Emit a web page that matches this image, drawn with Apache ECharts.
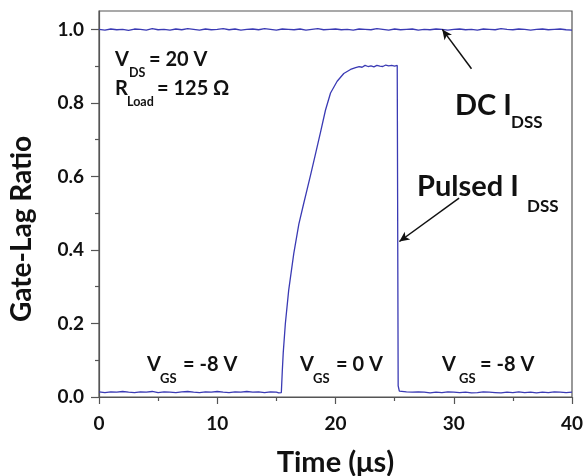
<!DOCTYPE html>
<html>
<head>
<meta charset="utf-8">
<script src="https://cdn.jsdelivr.net/npm/echarts@6/dist/echarts.min.js"></script>
<style>
  html, body { margin: 0; padding: 0; background: #fff; }
  #chart { width: 585px; height: 476px; }
</style>
</head>
<body>
<div id="chart"></div>
<script>
// DC trace: one value every 0.5 us from t = 0
const dcStep = 0.5;
const dcRatio = [
  1.000, 0.998, 1.001, 0.999, 1.000, 0.997, 1.001, 1.000, 0.998, 1.002,
  0.999, 1.000, 0.998, 1.001, 0.999, 1.002, 1.000, 0.998, 1.001, 0.999,
  1.000, 1.002, 0.999, 1.001, 0.998, 1.000, 1.001, 0.999, 1.002, 1.000,
  0.998, 1.001, 1.000, 0.999, 1.001, 0.998, 1.000, 1.002, 0.999, 1.000,
  1.001, 0.999, 1.000, 0.998, 1.001, 1.000, 0.999, 1.002, 1.000, 0.998,
  1.001, 0.999, 1.000, 1.001, 0.998, 1.000, 0.999, 1.001, 1.000, 0.998,
  1.000, 1.001, 0.999, 1.000, 0.998, 1.001, 1.000, 0.999, 1.002, 1.000,
  0.999, 1.001, 1.000, 0.998, 1.000, 1.001, 0.999, 1.000, 1.001, 0.999,
  0.998
];

// pulsed trace, gate off (VGS = -8 V): every 0.5 us from t = 0 to 15
const pulseStep = 0.5;
const pulseOffBefore = [
  0.014, 0.012, 0.014, 0.013, 0.015, 0.013, 0.012, 0.014, 0.013, 0.015,
  0.012, 0.014, 0.013, 0.012, 0.014, 0.015, 0.013, 0.012, 0.014, 0.013,
  0.015, 0.013, 0.012, 0.014, 0.013, 0.015, 0.013, 0.014, 0.012, 0.014,
  0.013
];
// gate on (VGS = 0 V): [t, ratio]
const pulseOn = [
  [15.2, 0.011], [15.42, 0.012], [15.5, 0.07], [15.58, 0.12], [15.76, 0.20],
  [16.04, 0.29], [16.47, 0.39], [16.9, 0.47], [17.3, 0.525], [17.6, 0.565],
  [17.9, 0.605], [18.3, 0.66], [18.73, 0.72], [19.15, 0.78], [19.58, 0.827],
  [20.14, 0.859], [20.7, 0.88], [21.27, 0.891], [21.7, 0.896],
  [22.0, 0.899], [22.25, 0.897], [22.5, 0.902], [22.75, 0.899], [23.0, 0.901],
  [23.25, 0.898], [23.5, 0.902], [23.75, 0.900], [24.0, 0.899], [24.25, 0.903],
  [24.5, 0.901], [24.75, 0.902], [25.0, 0.900], [25.22, 0.902],
  [25.3, 0.03], [25.4, 0.016]
];
// gate off again: every 0.5 us from t = 25.5 to 40
const pulseOffAfterStart = 25.5;
const pulseOffAfter = [
  0.015, 0.014, 0.013, 0.014, 0.013, 0.011, 0.013, 0.012, 0.014, 0.013,
  0.012, 0.013, 0.011, 0.012, 0.014, 0.013, 0.012, 0.011, 0.013, 0.012,
  0.014, 0.012, 0.013, 0.011, 0.013, 0.012, 0.014, 0.013, 0.012, 0.013
];

const xTicks = [0, 10, 20, 30, 40];
const yTicks = [0, 0.2, 0.4, 0.6, 0.8, 1.0];
const yMinorTicks = [0.1, 0.3, 0.5, 0.7, 0.9];

// arrows: [tail, head] in data coords
const dcArrow = [[31.5, 0.893], [29.03, 1.0]];
const pulseArrow = [[30.45, 0.541], [25.4, 0.423]];

(function (w, d) {
  const font = 'Lato, "Open Sans", sans-serif';
  const ink = '#111';
  const axisColor = '#555';
  const traceColor = '#3a3ab4';

  const dcData = dcRatio.map((v, i) => [i * dcStep, v]);
  const pulseData = []
    .concat(pulseOffBefore.map((v, i) => [i * pulseStep, v]))
    .concat(pulseOn)
    .concat(pulseOffAfter.map((v, i) => [pulseOffAfterStart + i * pulseStep, v]));

  /* text pieces: [text, x, y, size] */
  const notes = [
    ['V', 115, 60, 20], ['DS', 129, 72.5, 12.5], ['= 20 V', 149, 60, 20],
    ['R', 115, 88.5, 20], ['Load', 127, 102, 12.5], ['= 125 Ω', 157, 88.5, 20],
    ['DC I', 455, 106, 29], ['DSS', 511, 123, 17],
    ['Pulsed I', 417, 187, 29], ['DSS', 527, 206.5, 17],
    ['V', 147, 365, 20], ['GS', 160, 378.5, 13], ['= -8 V', 183, 365, 20],
    ['V', 300, 365, 20], ['GS', 313, 378.5, 13], ['= 0 V', 336, 365, 20],
    ['V', 442, 365, 20], ['GS', 459, 378.5, 13], ['= -8 V', 480, 365, 20]
  ];

  function noteGraphic() {
    const list = notes.map(([text, x, y, size]) => ({
      type: 'text',
      x, y,
      silent: true,
      z: 100,
      style: {
        text,
        fill: ink,
        fontSize: size,
        fontWeight: 'bold',
        fontFamily: font,
        align: 'left',
        verticalAlign: 'middle'
      }
    }));
    // y axis title, rotated
    list.push({
      type: 'text',
      x: 22, y: 229,
      rotation: Math.PI / 2,
      silent: true,
      style: {
        text: 'Gate-Lag Ratio',
        fill: ink,
        fontSize: 28,
        fontWeight: 'bold',
        fontFamily: font,
        align: 'center',
        verticalAlign: 'middle'
      }
    });
    return list;
  }

  function arrowLine(pair) {
    return {
      silent: true,
      symbol: ['none', 'arrow'],
      symbolSize: [7, 10],
      label: { show: false },
      lineStyle: { color: ink, width: 1.5, type: 'solid' },
      emphasis: { disabled: true },
      data: [[{ coord: pair[0] }, { coord: pair[1] }]]
    };
  }

  const axisLabelStyle = {
    color: ink,
    fontSize: 19,
    fontWeight: 'bold',
    fontFamily: font
  };

  const chart = w.echarts.init(d.getElementById('chart'));
  chart.setOption({
    animation: false,
    grid: {
      left: 99, right: 13, top: 11, bottom: 79,
      outerBoundsMode: 'none',
      show: true, borderColor: axisColor, borderWidth: 1.2
    },
    xAxis: {
      type: 'value',
      min: 0, max: 40, interval: 10,
      name: 'Time (μs)',
      nameLocation: 'middle',
      nameGap: 51,
      nameTextStyle: { color: ink, fontSize: 29, fontWeight: 'bold', fontFamily: font },
      axisLine: { show: true, lineStyle: { color: axisColor, width: 1.2 } },
      axisTick: { show: true, inside: false, length: 7, lineStyle: { color: axisColor, width: 1.2 }, customValues: xTicks },
      minorTick: { show: true, splitNumber: 2, length: 4, lineStyle: { color: axisColor, width: 1.2 } },
      axisLabel: { ...axisLabelStyle, margin: 17, customValues: xTicks },
      splitLine: { show: false }
    },
    yAxis: [{
      type: 'value',
      min: 0, max: 1.05,
      axisLine: { show: true, lineStyle: { color: axisColor, width: 1.2 } },
      axisTick: { show: true, inside: false, length: 8, lineStyle: { color: axisColor, width: 1.2 }, customValues: yTicks },
      axisLabel: { ...axisLabelStyle, margin: 15, customValues: yTicks, formatter: v => v.toFixed(1) },
      splitLine: { show: false }
    }, {
      type: 'value',
      min: 0, max: 1.05,
      position: 'left',
      axisLine: { show: false },
      axisTick: { show: true, inside: false, length: 4, lineStyle: { color: axisColor, width: 1.2 }, customValues: yMinorTicks },
      axisLabel: { show: false },
      splitLine: { show: false }
    }],
    series: [{
      name: 'DC IDSS',
      type: 'line',
      data: dcData,
      showSymbol: false,
      lineStyle: { color: traceColor, width: 1.3 },
      itemStyle: { color: traceColor },
      markLine: arrowLine(dcArrow)
    }, {
      name: 'Pulsed IDSS',
      type: 'line',
      data: pulseData,
      showSymbol: false,
      lineStyle: { color: traceColor, width: 1.3 },
      itemStyle: { color: traceColor },
      markLine: arrowLine(pulseArrow)
    }],
    graphic: noteGraphic()
  });
})(window, document);
</script>
</body>
</html>
